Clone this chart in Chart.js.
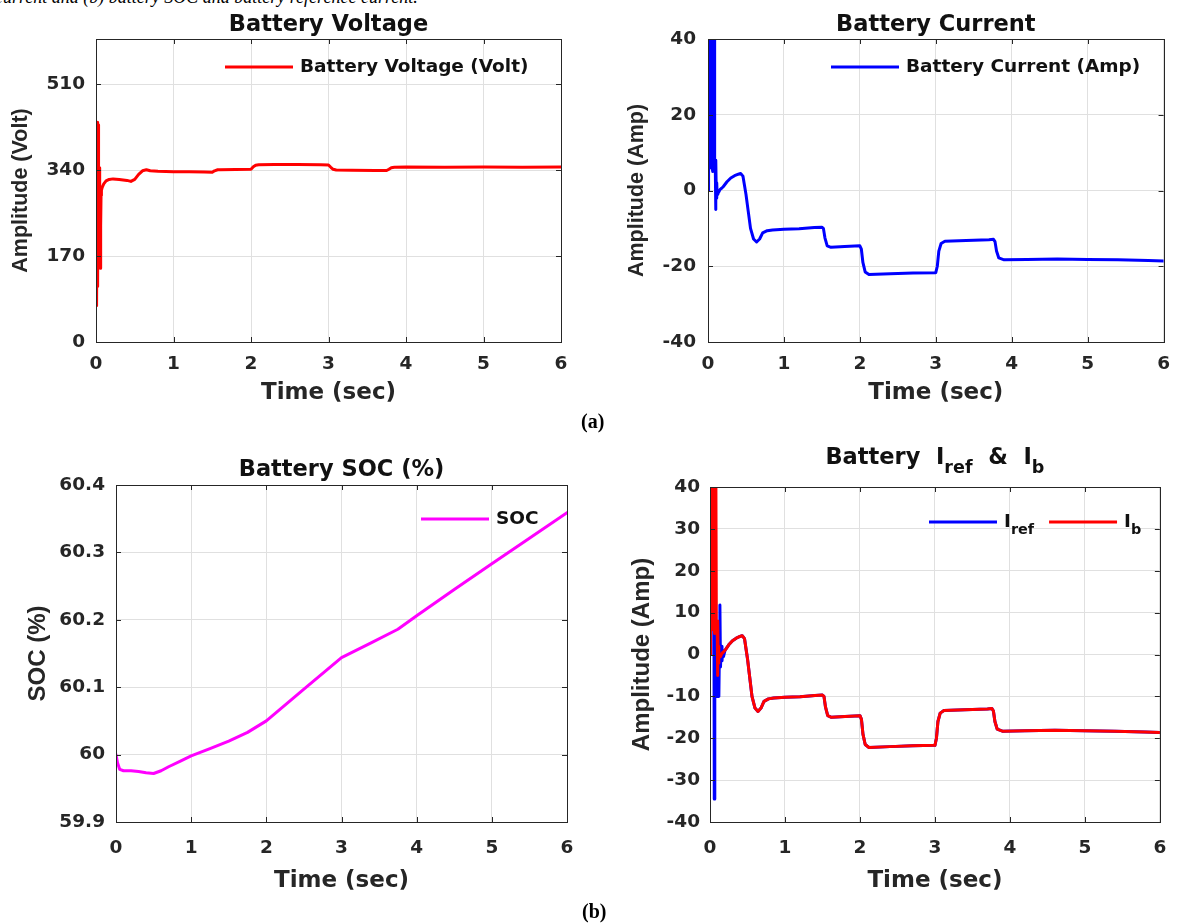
<!DOCTYPE html>
<html>
<head>
<meta charset="utf-8">
<script src="https://cdn.jsdelivr.net/npm/chart.js@4.4.0/dist/chart.umd.min.js"></script>
<style>
  body { margin: 0; background: #fff; width: 1181px; height: 923px; overflow: hidden; position: relative; }
  canvas { position: absolute; }
  .cap { position: absolute; font-family: "Liberation Serif"; font-weight: bold; font-size: 20px; color: #000; }
  .topline { position: absolute; left: -5px; top: -13px; font-family: "Liberation Serif"; font-style: italic; font-size: 18px; white-space: nowrap; color: #000; }
</style>
</head>
<body>
<div class="topline">current and (b) battery SOC and battery reference current.</div>
<canvas id="cVolt" width="590" height="420" style="left:0;top:0"></canvas>
<canvas id="cCur" width="581" height="420" style="left:600px;top:0"></canvas>
<canvas id="cSoc" width="600" height="480" style="left:0;top:430px"></canvas>
<canvas id="cRef" width="581" height="480" style="left:600px;top:430px"></canvas>
<div class="cap" style="left:581px;top:410px">(a)</div>
<div class="cap" style="left:582px;top:900px">(b)</div>
<script>
// tick labels
const timeTicks = [0, 1, 2, 3, 4, 5, 6];
const voltTicks = [0, 170, 340, 510];
const ampTicks = [-40, -20, 0, 20, 40];
const ampTicksFine = [-40, -30, -20, -10, 0, 10, 20, 30, 40];
const socTicks = [59.9, 60, 60.1, 60.2, 60.3, 60.4];

// battery voltage (V)
const voltTime = [0, 0.003, 0.006, 0.009, 0.012, 0.015, 0.018, 0.021, 0.024, 0.027, 0.03, 0.033, 0.036, 0.04, 0.045, 0.05, 0.055, 0.06, 0.065, 0.07, 0.08, 0.1, 0.13, 0.17, 0.22,
  0.3, 0.35, 0.4, 0.45, 0.5, 0.55, 0.6, 0.65, 0.7, 0.8, 0.9, 1.0, 1.2, 1.4, 1.5, 1.53, 1.57, 1.6, 1.8, 2.0, 2.03, 2.06, 2.1, 2.3, 2.6, 2.9, 3.0,
  3.03, 3.06, 3.1, 3.3, 3.6, 3.75, 3.78, 3.81, 3.85, 4.0, 4.5, 5.0, 5.5, 6.0];
const voltage = [325, 335, 260, 340, 72, 330, 110, 435, 120, 430, 200, 420, 300, 345, 300, 200, 146, 230, 290, 300, 306, 313, 319, 322, 323,
  322, 321, 320, 318, 322, 332, 339, 341, 339, 338, 337.5, 337, 337, 336.5, 336, 339, 341, 341, 341.5, 342, 347, 350, 351, 351.5, 351.5, 351, 350.5,
  346, 342, 340.5, 340, 339.5, 339.5, 342, 345, 346, 346.5, 346, 346.5, 346, 346.5];

// battery current (A), also used as I_b
const curTime = [0, 0.005, 0.01, 0.015, 0.02, 0.025, 0.03, 0.035, 0.04, 0.045,
  0.05, 0.055, 0.06, 0.065, 0.07, 0.075, 0.08, 0.085, 0.09, 0.095,
  0.1, 0.105, 0.11, 0.115, 0.12, 0.13, 0.14, 0.16, 0.18, 0.2,
  0.25, 0.3, 0.35, 0.4, 0.43, 0.46, 0.5, 0.53, 0.56, 0.6,
  0.64, 0.68, 0.72, 0.78, 0.85, 1.0, 1.2, 1.4, 1.5, 1.52,
  1.54, 1.57, 1.62, 1.8, 2.0, 2.02, 2.04, 2.07, 2.12, 2.4,
  2.7, 3.0, 3.02, 3.04, 3.07, 3.12, 3.4, 3.7, 3.76, 3.78,
  3.8, 3.83, 3.9, 4.2, 4.6, 5.0, 5.4, 5.8, 6.0];
const current = [0, 30, 48, 6, 48, 16, 48, 6, 48, 15,
  48, 6, 48, 5, 48, 6, 48, 6, 6, 8,
  -5, 8, -2, 2, -1, 0, -0.5, 0.3, 0.6, 1,
  2.3, 3.3, 3.9, 4.3, 4.5, 3.8, -1, -5.5, -10, -12.8,
  -13.6, -12.8, -11.2, -10.6, -10.4, -10.2, -10.1, -9.8, -9.7, -10,
  -12.5, -14.6, -15, -14.8, -14.6, -15.5, -19, -21.5, -22.2, -22,
  -21.8, -21.7, -20, -16, -14, -13.4, -13.2, -13, -12.9, -13.5,
  -16, -17.8, -18.3, -18.2, -18.1, -18.2, -18.3, -18.5, -18.6];

// reference current I_ref (A)
const refTime = [0, 0.01, 0.02, 0.03, 0.04, 0.05, 0.057, 0.064, 0.072, 0.08,
  0.088, 0.095, 0.102, 0.11, 0.118, 0.125, 0.132, 0.14, 0.15, 0.16,
  0.17, 0.18, 0.2, 0.25, 0.3, 0.35, 0.4, 0.43, 0.46, 0.5,
  0.53, 0.56, 0.6, 0.64, 0.68, 0.72, 0.78, 0.85, 1.0, 1.2,
  1.4, 1.5, 1.52, 1.54, 1.57, 1.62, 1.8, 2.0, 2.02, 2.04,
  2.07, 2.12, 2.4, 2.7, 3.0, 3.02, 3.04, 3.07, 3.12, 3.4,
  3.7, 3.76, 3.78, 3.8, 3.83, 3.9, 4.2, 4.6, 5.0, 5.4, 5.8, 6.0];
const refCurrent = [0, 38, 6, 40, 6, 40, -34.5, 5.3, 4, 5,
  -10, 0, -10, -2, -10, 0, 11.8, -3, 2, -1.5,
  1, -0.5, 1, 2.3, 3.3, 3.9, 4.3, 4.5, 3.8, -1,
  -5.5, -10, -12.8, -13.6, -12.8, -11.2, -10.6, -10.4, -10.2, -10.1,
  -9.8, -9.7, -10, -12.5, -14.6, -15, -14.8, -14.6, -15.5, -19,
  -21.5, -22.2, -22, -21.8, -21.7, -20, -16, -14, -13.4, -13.2,
  -13, -12.9, -13.5, -16, -17.8, -18.3, -18.2, -18.1, -18.2, -18.3, -18.5, -18.6];

// state of charge (%)
const socTime = [0, 0.02, 0.05, 0.1, 0.2, 0.3, 0.4, 0.5, 0.6, 0.7, 0.85, 1.0, 1.25, 1.5, 1.75, 2.0, 2.5, 3.0, 3.4, 3.75, 4.0, 4.5, 5.0, 5.5, 6.0];
const soc = [60.0, 59.988, 59.978, 59.976, 59.976, 59.975, 59.973, 59.972, 59.976, 59.982, 59.99, 59.998, 60.009, 60.02, 60.033, 60.05, 60.097, 60.144, 60.166, 60.186, 60.206, 60.245, 60.283, 60.321, 60.359];

const textColor = '#262626';
const gridColor = '#e0e0e0';
const tickFont = { family: 'DejaVu Sans', weight: 'bold', size: 18.5 };

function pts(xs, ys) {
  return xs.map((x, i) => ({ x: x, y: ys[i] }));
}

// text with _{sub} parts
function richParts(text) {
  const parts = [];
  const re = /_\{([^}]*)\}/g;
  let last = 0, m;
  while ((m = re.exec(text))) {
    if (m.index > last) parts.push({ t: text.slice(last, m.index), sub: false });
    parts.push({ t: m[1], sub: true });
    last = re.lastIndex;
  }
  if (last < text.length) parts.push({ t: text.slice(last), sub: false });
  return parts;
}

function drawRich(ctx, text, x, y, size, align) {
  const parts = richParts(text);
  const font = s => 'bold ' + s + 'px "DejaVu Sans"';
  let w = 0;
  parts.forEach(p => {
    ctx.font = font(p.sub ? size * 0.78 : size);
    p.w = ctx.measureText(p.t).width;
    w += p.w;
  });
  let cx = align === 'center' ? x - w / 2 : x;
  ctx.textAlign = 'left';
  ctx.textBaseline = 'middle';
  parts.forEach(p => {
    ctx.font = font(p.sub ? size * 0.78 : size);
    ctx.fillText(p.t, cx, p.sub ? y + size * 0.45 : y);
    cx += p.w;
  });
  return w;
}

// matlab style box, inner ticks, title and legend
const figDecor = {
  id: 'figDecor',
  afterDatasetsDraw(chart, args, opts) {
    const ctx = chart.ctx, a = chart.chartArea;
    const xs = chart.scales.x, ys = chart.scales.y;
    const tl = 5;
    ctx.save();
    ctx.strokeStyle = textColor;
    ctx.lineWidth = 1;
    ctx.beginPath();
    xs.ticks.forEach(t => {
      const px = Math.round(xs.getPixelForValue(t.value)) + 0.5;
      ctx.moveTo(px, a.bottom); ctx.lineTo(px, a.bottom - tl);
      ctx.moveTo(px, a.top); ctx.lineTo(px, a.top + tl);
    });
    ys.ticks.forEach(t => {
      const py = Math.round(ys.getPixelForValue(t.value)) + 0.5;
      ctx.moveTo(a.left, py); ctx.lineTo(a.left + tl, py);
      ctx.moveTo(a.right, py); ctx.lineTo(a.right - tl, py);
    });
    ctx.stroke();
    ctx.strokeRect(Math.round(a.left) + 0.5, Math.round(a.top) + 0.5, Math.round(a.right - a.left), Math.round(a.bottom - a.top));
    ctx.restore();
  },
  afterDraw(chart, args, opts) {
    const ctx = chart.ctx, a = chart.chartArea;
    ctx.save();
    ctx.fillStyle = '#111';
    drawRich(ctx, opts.title, (a.left + a.right) / 2, opts.titleY, 22.5, 'center');
    let x = opts.legendX;
    chart.data.datasets.forEach(ds => {
      ctx.strokeStyle = ds.borderColor;
      ctx.lineWidth = 3;
      ctx.beginPath();
      ctx.moveTo(x, opts.legendY);
      ctx.lineTo(x + 68, opts.legendY);
      ctx.stroke();
      x += 68 + 7;
      ctx.fillStyle = '#111';
      x += drawRich(ctx, ds.label, x, opts.legendY, 18.5, 'left') + 15;
    });
    ctx.restore();
  }
};

function makeChart(id, c) {
  return new Chart(document.getElementById(id), {
    type: 'line',
    data: { datasets: c.datasets },
    options: {
      responsive: false,
      animation: false,
      devicePixelRatio: 1,
      layout: { padding: { top: c.padTop, right: c.padRight, left: 0, bottom: 0 } },
      elements: {
        point: { radius: 0 },
        line: { borderWidth: 3, tension: 0, borderJoinStyle: 'round', borderCapStyle: 'round' }
      },
      plugins: {
        legend: { display: false },
        tooltip: { enabled: false },
        figDecor: { title: c.title, titleY: c.titleY, legendX: c.legendX, legendY: c.legendY }
      },
      scales: {
        x: {
          type: 'linear', min: 0, max: 6,
          afterBuildTicks: s => { s.ticks = timeTicks.map(v => ({ value: v })); },
          afterFit: s => { s.height = c.xHeight; },
          grid: { color: gridColor, drawTicks: false },
          border: { display: false },
          ticks: { font: tickFont, color: textColor, padding: c.xTickPad, maxRotation: 0, autoSkip: false },
          title: {
            display: true, text: 'Time (sec)', color: textColor,
            font: { family: 'DejaVu Sans', weight: 'bold', size: 23, lineHeight: 1.2 },
            padding: { top: 0, bottom: c.xTitlePad }
          }
        },
        y: {
          type: 'linear', min: c.yMin, max: c.yMax,
          afterBuildTicks: s => { s.ticks = c.yTicks.map(v => ({ value: v })); },
          afterFit: s => { s.width = c.yWidth; },
          grid: { color: gridColor, drawTicks: false },
          border: { display: false },
          ticks: { font: tickFont, color: textColor, padding: c.yTickPad, autoSkip: false, callback: v => String(v) },
          title: {
            display: true, text: c.yTitle, color: textColor,
            font: { family: 'Liberation Sans', weight: 'bold', size: c.yTitleSize, lineHeight: 1.2 },
            padding: { top: c.yTitlePad, bottom: 0 }
          }
        }
      }
    },
    plugins: [figDecor]
  });
}

makeChart('cVolt', {
  datasets: [{ label: 'Battery Voltage (Volt)', data: pts(voltTime, voltage), borderColor: '#ff0000' }],
  title: 'Battery Voltage', titleY: 25, legendX: 225, legendY: 67,
  yMin: 0, yMax: 600, yTicks: voltTicks, yTitle: 'Amplitude (Volt)', yTitleSize: 21.5,
  padTop: 39, padRight: 29, yWidth: 96, xHeight: 78,
  yTickPad: 11, xTickPad: 11, yTitlePad: 8.1, xTitlePad: 13.2
});

makeChart('cCur', {
  datasets: [{ label: 'Battery Current (Amp)', data: pts(curTime, current), borderColor: '#0000ff' }],
  title: 'Battery Current', titleY: 25, legendX: 231, legendY: 67,
  yMin: -40, yMax: 40, yTicks: ampTicks, yTitle: 'Amplitude (Amp)', yTitleSize: 21.5,
  padTop: 39, padRight: 12, yWidth: 108, xHeight: 78,
  yTickPad: 12, xTickPad: 11, yTitlePad: 24.1, xTitlePad: 13.2
});

makeChart('cSoc', {
  datasets: [{ label: 'SOC', data: pts(socTime, soc), borderColor: '#ff00ff' }],
  title: 'Battery SOC (%)', titleY: 40, legendX: 421, legendY: 89,
  yMin: 59.9, yMax: 60.4, yTicks: socTicks, yTitle: 'SOC (%)', yTitleSize: 24,
  padTop: 55, padRight: 33, yWidth: 116, xHeight: 88,
  yTickPad: 11, xTickPad: 14.7, yTitlePad: 23.6, xTitlePad: 15.2
});

makeChart('cRef', {
  datasets: [
    { label: 'I_{ref}', data: pts(refTime, refCurrent), borderColor: '#0000ff', order: 1 },
    { label: 'I_{b}', data: pts(curTime, current), borderColor: '#ff0000', order: 0 }
  ],
  title: 'Battery  I_{ref}  &  I_{b}', titleY: 28, legendX: 329, legendY: 92,
  yMin: -40, yMax: 40, yTicks: ampTicksFine, yTitle: 'Amplitude (Amp)', yTitleSize: 24,
  padTop: 57, padRight: 13, yWidth: 110, xHeight: 88,
  yTickPad: 10, xTickPad: 14.7, yTitlePad: 27.6, xTitlePad: 15.2
});
</script>
</body>
</html>
